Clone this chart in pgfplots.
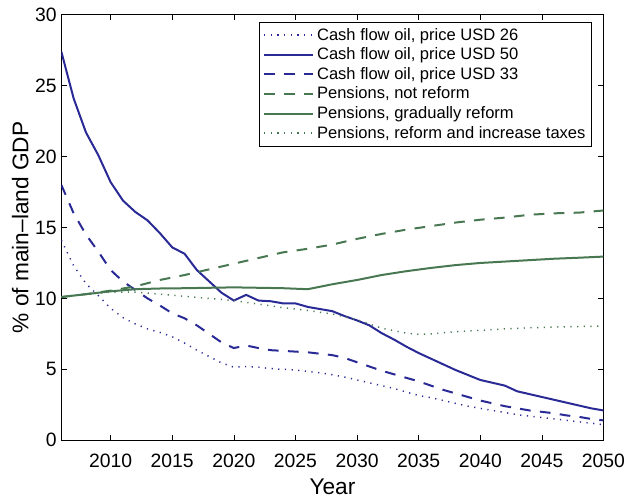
\documentclass[border=0pt]{standalone}
\usepackage{fontspec}
\setmainfont{Liberation Sans}
\usepackage{pgfplots}
\pgfplotsset{compat=1.18}
\definecolor{oilblue}{RGB}{42,42,150}
\definecolor{pgreen}{RGB}{72,120,82}
\begin{document}
\begin{tikzpicture}
\path[use as bounding box] (-46pt,-44.85pt) rectangle (421.9pt,330.1pt);
\begin{axis}[
  at={(0,0)}, anchor=south west,
  scale only axis, width=406.5pt, height=319pt,
  xmin=2006, xmax=2050, ymin=0, ymax=30,
  xtick={2010,2015,...,2050}, ytick={0,5,...,30},
  tick align=inside, major tick length=4pt,
  xticklabel style={font=\fontsize{14.5}{14.5}\selectfont, /pgf/number format/1000 sep={}, yshift=-7pt},
  yticklabel style={font=\fontsize{14.5}{14.5}\selectfont},
  /pgf/number format/assume math mode=true,
  xlabel={Year}, ylabel={\% of main–land GDP},
  label style={font=\fontsize{17}{17}\selectfont},
  xlabel style={yshift=-1.5pt},
  ylabel style={yshift=-2pt},
  axis line style={line width=0.9pt},
  every tick/.style={black, line width=0.5pt},
  legend style={at={(0.979,0.984)}, anchor=north east, font=\fontsize{12.4}{12.4}\selectfont,
    draw=black, inner sep=2.5pt, row sep=0.2pt, cells={anchor=west}},
  legend image code/.code={\draw[#1] (0cm,0cm) -- (1.3cm,0cm);},
  every axis legend/.append style={line width=0.9pt},
]
% USD 26
\addplot[oilblue, line width=1.1pt, dash pattern=on 0.9pt off 4.1pt] coordinates {
(2006,14.1)(2007,12.3)(2008,11.05)(2009,10.2)(2010,9.3)(2011,8.65)(2012,8.2)(2013,7.85)(2014,7.6)(2015,7.3)
(2016,6.85)(2017,6.35)(2018,5.9)(2019,5.45)(2020,5.15)(2021,5.2)(2022,5.15)(2023,5.05)(2024,5.0)(2025,4.95)
(2026,4.85)(2027,4.75)(2028,4.62)(2029,4.45)(2030,4.25)(2031,4.05)(2032,3.85)(2033,3.65)(2034,3.4)(2035,3.15)
(2036,3.0)(2037,2.8)(2038,2.6)(2039,2.4)(2040,2.25)(2041,2.1)(2042,1.95)(2043,1.8)(2044,1.7)(2045,1.6)
(2046,1.5)(2047,1.4)(2048,1.3)(2049,1.2)(2050,1.1)};
\addlegendentry{Cash flow oil, price USD 26}
% USD 50
\addplot[oilblue, line width=1.5pt] coordinates {
(2006,27.4)(2007,24.1)(2008,21.7)(2009,20.1)(2010,18.2)(2011,16.9)(2012,16.1)(2013,15.5)(2014,14.6)(2015,13.6)
(2016,13.15)(2017,12.0)(2018,11.2)(2019,10.4)(2020,9.85)(2021,10.25)(2022,9.85)(2023,9.8)(2024,9.65)(2025,9.65)
(2026,9.4)(2027,9.25)(2028,9.1)(2029,8.75)(2030,8.45)(2031,8.1)(2032,7.55)(2033,7.1)(2034,6.6)(2035,6.15)
(2036,5.75)(2037,5.35)(2038,4.95)(2039,4.6)(2040,4.25)(2041,4.05)(2042,3.85)(2043,3.45)(2044,3.25)(2045,3.05)
(2046,2.85)(2047,2.65)(2048,2.45)(2049,2.25)(2050,2.1)};
\addlegendentry{Cash flow oil, price USD 50}
% USD 33
\addplot[oilblue, line width=1.5pt, dash pattern=on 8pt off 7pt] coordinates {
(2006,18.0)(2007,16.0)(2008,14.5)(2009,13.3)(2010,12.0)(2011,11.2)(2012,10.6)(2013,10.0)(2014,9.5)(2015,8.95)
(2016,8.6)(2017,8.1)(2018,7.5)(2019,6.9)(2020,6.5)(2021,6.68)(2022,6.5)(2023,6.35)(2024,6.3)(2025,6.25)
(2026,6.2)(2027,6.1)(2028,6.0)(2029,5.8)(2030,5.5)(2031,5.2)(2032,4.9)(2033,4.65)(2034,4.4)(2035,4.15)
(2036,3.85)(2037,3.55)(2038,3.3)(2039,3.05)(2040,2.8)(2041,2.6)(2042,2.4)(2043,2.25)(2044,2.1)(2045,2.0)
(2046,1.9)(2047,1.75)(2048,1.65)(2049,1.5)(2050,1.4)};
\addlegendentry{Cash flow oil, price USD 33}
% not reform
\addplot[pgreen, line width=1.5pt, dash pattern=on 8pt off 7pt] coordinates {
(2006,10.1)(2008,10.3)(2010,10.55)(2012,10.85)(2014,11.3)(2016,11.65)(2018,12.05)(2020,12.45)(2022,12.85)
(2024,13.25)(2026,13.5)(2028,13.8)(2030,14.2)(2032,14.55)(2034,14.85)(2036,15.1)(2038,15.35)(2040,15.55)
(2042,15.7)(2044,15.9)(2046,16.0)(2048,16.05)(2050,16.2)};
\addlegendentry{Pensions, not reform}
% gradually reform
\addplot[pgreen, line width=1.5pt] coordinates {
(2006,10.1)(2008,10.3)(2010,10.5)(2012,10.65)(2014,10.7)(2016,10.72)(2018,10.75)(2020,10.78)(2022,10.75)
(2024,10.72)(2026,10.65)(2028,11.0)(2030,11.3)(2032,11.65)(2034,11.92)(2036,12.15)(2038,12.35)(2040,12.5)
(2042,12.6)(2044,12.7)(2046,12.8)(2048,12.87)(2050,12.95)};
\addlegendentry{Pensions, gradually reform}
% reform and taxes
\addplot[pgreen, line width=1.1pt, dash pattern=on 0.9pt off 4.1pt] coordinates {
(2006,10.1)(2008,10.3)(2010,10.45)(2012,10.45)(2014,10.3)(2016,10.15)(2018,10.0)(2020,9.85)(2022,9.6)
(2024,9.35)(2026,9.15)(2028,8.9)(2030,8.5)(2032,7.9)(2034,7.55)(2035,7.47)(2036,7.5)(2038,7.65)(2040,7.75)
(2042,7.85)(2044,7.93)(2046,7.98)(2048,8.02)(2050,8.05)};
\addlegendentry{Pensions, reform and increase taxes}
\end{axis}
\end{tikzpicture}
\end{document}
